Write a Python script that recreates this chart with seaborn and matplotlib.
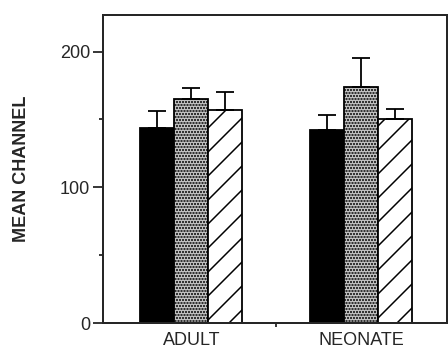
import numpy as np
import pandas as pd
import matplotlib
matplotlib.use("Agg")
import matplotlib.pyplot as plt
import seaborn as sns

# Data
groups = ["ADULT", "NEONATE"]
treatments = ["t1", "t2", "t3"]
adult_means = [144, 165, 157]
adult_errs = [12.5, 8.5, 13]
neonate_means = [142, 174, 150]
neonate_errs = [11, 21, 8]

df = pd.DataFrame({
    "group": [g for g in groups for _ in treatments],
    "treatment": treatments * len(groups),
    "mean": adult_means + neonate_means,
    "err": adult_errs + neonate_errs,
})

sns.set_style("ticks")
plt.rcParams['font.family'] = ['Liberation Sans', 'DejaVu Sans']
plt.rcParams['hatch.linewidth'] = 1.5

fig = plt.figure(figsize=(448 / 72, 351 / 72), dpi=72)
ax = fig.add_axes([103 / 448, 28 / 351, 344 / 448, 308 / 351])

sns.barplot(data=df, x="group", y="mean", hue="treatment",
            palette=["#000000", "#c4c4c4", "#ffffff"], saturation=1,
            width=0.6, errorbar=None, legend=False,
            edgecolor="black", linewidth=1.8, ax=ax)

hatches = [None, "....", "/"]
for cont, h in zip(ax.containers, hatches):
    for bar in cont:
        if h:
            bar.set_hatch(h)

# upper-only error bars placed on the bars seaborn drew
for cont, t in zip(ax.containers, treatments):
    sub = df[df["treatment"] == t].set_index("group").loc[groups]
    xs = [b.get_x() + b.get_width() / 2 for b in cont]
    hs = [b.get_height() for b in cont]
    ax.errorbar(xs, hs, yerr=[np.zeros(len(xs)), sub["err"].values],
                fmt="none", ecolor="black", elinewidth=1.8,
                capsize=9, capthick=1.8, zorder=1)

ax.set_xlim(-0.52, 1.503)
ax.set_ylim(0, 227)
ax.set_yticks([0, 100, 200])
ax.set_yticks([50, 150], minor=True)
ax.set_xticks([0.5], minor=True)
ax.tick_params(axis="y", which="major", length=10, width=1.8, pad=3, labelsize=18)
ax.tick_params(axis="y", which="minor", length=4, width=1.8)
ax.tick_params(axis="x", which="major", length=0, pad=9, labelsize=18)
ax.tick_params(axis="x", which="minor", length=4, width=1.8)

for s in ax.spines.values():
    s.set_linewidth(2)

ax.set_xlabel("")
ax.set_ylabel("MEAN CHANNEL", fontsize=18, fontweight="bold", labelpad=30)

fig.savefig("out.png", dpi=72)
